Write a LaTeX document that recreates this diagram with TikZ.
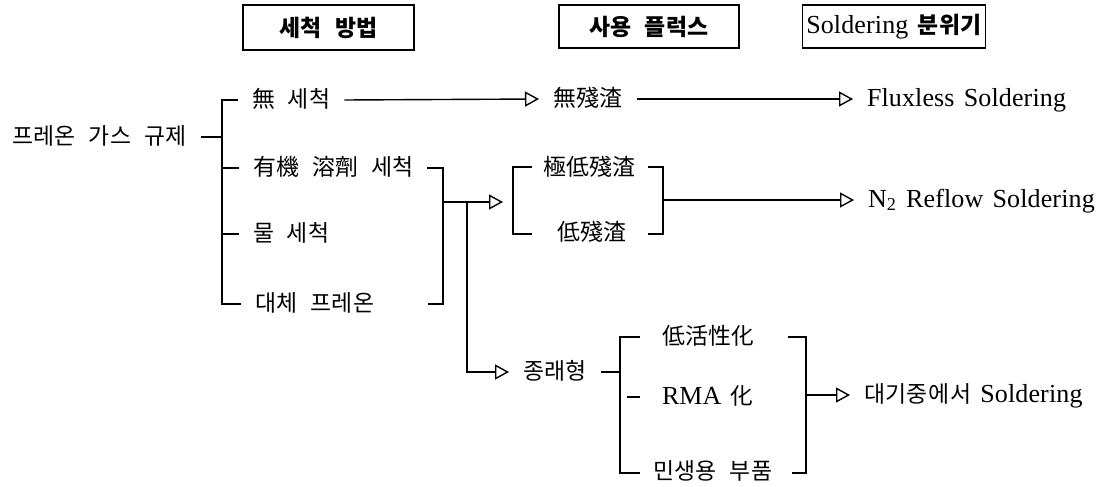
\documentclass[tikz,border=0pt]{standalone}
\usepackage{fontspec}
\setmainfont{Liberation Serif}[LetterSpace=0.5,WordSpace=1.4]
\newfontfamily\kr{Noto Sans CJK KR}[Scale=0.88,LetterSpace=2,WordSpace=2.3]
\usetikzlibrary{arrows.meta}

\begin{document}
\begin{tikzpicture}[x=0.5pt,y=-0.5pt,
    lbl/.style={anchor=west,inner sep=0pt,outer xsep=7pt,outer ysep=0pt,text height=7pt,text depth=0pt,font=\fontsize{13}{15}\selectfont},
    hdr/.style={draw,line width=0.7pt,inner xsep=2pt,inner ysep=0pt,minimum height=21.5pt,font=\fontsize{13}{15}\selectfont},
    wire/.style={line width=0.7pt},
    arr/.style={wire,-{Triangle[open,length=7pt,width=7.5pt]}}]
  \useasboundingbox (0,0) rectangle (1104,487);

  \node[hdr,minimum width=85.5pt,minimum height=22.5pt] (hwash) at (328.5,27.5) {\kr\bfseries 세척 방법};
  \node[hdr,minimum width=90pt] (hflux) at (649,26.5) {\kr\bfseries 사용 플럭스};
  \node[hdr,minimum width=91.5pt] (hatmo) at (894,26.5) {Soldering {\kr\bfseries 분위기}};

  \node[lbl] (freon) at (-2,137) {\kr 프레온 가스 규제};
  \node[lbl] (nowash) at (238,100) {\kr 無 세척};
  \node[lbl] (solvent) at (239,168) {\kr 有機 溶劑 세척};
  \node[lbl] (water) at (239,234) {\kr 물 세척};
  \node[lbl] (altfreon) at (241,304) {\kr 대체 프레온};

  \node[lbl] (nores) at (539,99) {\kr 無殘渣};
  \node[lbl] (vlres) at (529,168) {\kr 極低殘渣};
  \node[lbl] (lres) at (543,233) {\kr 低殘渣};
  \node[lbl] (conv) at (509,372) {\kr 종래형};
  \node[lbl] (lowact) at (648,337) {\kr 低活性化};
  \node[lbl] (rma) at (648,397) {RMA {\kr 化}};
  \node[lbl] (civil) at (639,472) {\kr 민생용 부품};

  \node[lbl] (fluxless) at (853,99) {Fluxless Soldering};
  \node[lbl] (reflow) at (854,200) {N\textsubscript{2} Reflow Soldering};
  \node[lbl] (air) at (850,395) {{\kr 대기중에서} Soldering};

  \coordinate (spinetop) at (222,100);
  \coordinate (spinebot) at (222,304);
  \coordinate (solvr) at (443,168);
  \coordinate (altr) at (443,304);
  \coordinate (jct) at (443,202);
  \coordinate (fork) at (467,202);
  \coordinate (resin) at (503,202);
  \coordinate (reslt) at (513,167);
  \coordinate (reslb) at (513,234);
  \coordinate (resrt) at (663,167);
  \coordinate (resrb) at (663,234);
  \coordinate (resout) at (663,200);
  \coordinate (convlt) at (620,337);
  \coordinate (convlb) at (620,473);
  \coordinate (convrt) at (806,337);
  \coordinate (convrb) at (806,473);
  \coordinate (convout) at (806,395);

  \draw[wire] (freon.east) -- (freon.east -| spinetop);
  \draw[wire] (nowash.west) -- (spinetop) -- (spinebot) -- (altfreon.west);
  \draw[wire] (solvent.west -| spinetop) -- (solvent.west);
  \draw[wire] (water.west -| spinetop) -- (water.west);

  \draw[arr] (nowash.east) -- (nores.west);
  \draw[arr] (nores.east) -- (fluxless.west);

  \draw[wire] ([xshift=-8pt]solvr) -- (solvr) -- (altr) -- ([xshift=-7.5pt]altr);
  \draw[arr] (jct) -- (resin);
  \draw[arr] (fork) |- (conv.west);

  \draw[wire] ([xshift=9.5pt]reslt) -- (reslt) -- (reslb) -- ([xshift=9.5pt]reslb);
  \draw[wire] ([xshift=-7.5pt]resrt) -- (resrt) -- (resrb) -- ([xshift=-7.5pt]resrb);
  \draw[arr] (resout) -- (reflow.west);

  \draw[wire] (conv.east) -- (conv.east -| convlt);
  \draw[wire] ([xshift=10pt]convlt) -- (convlt) -- (convlb) -- ([xshift=10pt]convlb);
  \draw[wire] ([xshift=-10.5pt]rma.west) -- ([xshift=-4pt]rma.west);
  \draw[wire] ([xshift=-9pt]convrt) -- (convrt) -- (convrb) -- ([xshift=-7pt]convrb);
  \draw[arr] (convout) -- (air.west);
\end{tikzpicture}
\end{document}
